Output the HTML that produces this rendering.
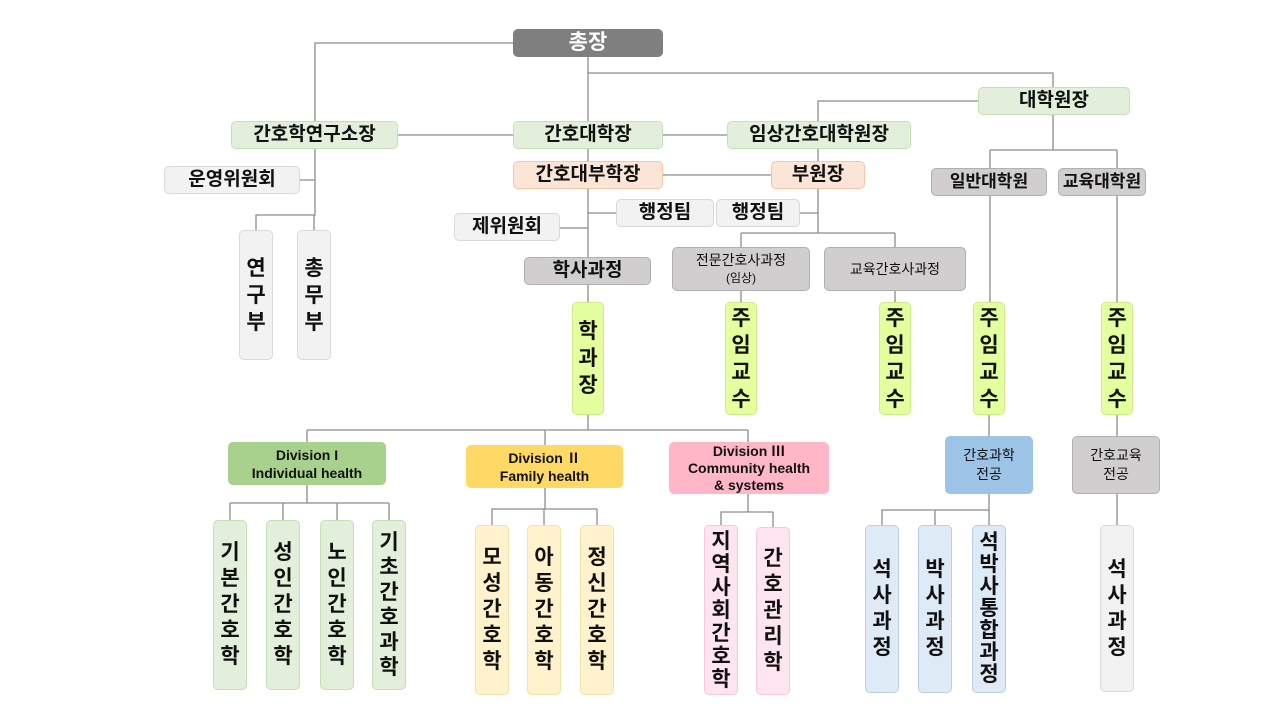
<!DOCTYPE html><html><head><meta charset="utf-8"><style>
body{margin:0;width:1280px;height:720px;background:#fff;position:relative;overflow:hidden;font-family:"Liberation Sans","Noto Sans CJK KR",sans-serif}
.b{position:absolute;box-sizing:border-box;border-radius:5px;display:flex;align-items:center;justify-content:center;text-align:center;font-weight:bold;font-size:19px;color:#111;line-height:1.15}
.g{background:#e2efda;border:1px solid #c5e0b4}
.p{background:#fbe5d6;border:1px solid #f4c7a8}
.l{background:#f2f2f2;border:1px solid #d9d9d9}
.d{background:#d0cece;border:1px solid #b0b0b0}
.y{background:#e3ff9e;border:1px solid #cfe98a}
.v{flex-direction:column;font-size:21px;line-height:27px}
.v2{flex-direction:column;font-size:21px;line-height:26px}
svg{position:absolute;left:0;top:0}
</style></head><body>
<svg width="1280" height="720" stroke="#8c8c8c" stroke-width="1.3" fill="none">
<path d="M513 43H315V121M588 57V302M588 415V430M588 73H1053V87M978 101H818V121M1053 115V150M990 150H1117M990 150V168M1117 150V168"/>
<path d="M398 135H513M663 135H727M663 175H771M818 149V233M741 233H895M741 233V247M895 233V247M800 213H818M616 213H588M560 228H588"/>
<path d="M315 149V215H256V230M314 215V230M300 180H315"/>
<path d="M741 291V302M895 291V302M990 196V302M1117 196V302M989 415V436M1117 415V436"/>
<path d="M307 430H748M307 430V442M545 430V445M748 430V442"/>
<path d="M307 485V503M230 503H389M230 503V520M283 503V520M337 503V520M389 503V520"/>
<path d="M545 488V509H492V525M544 509V525M597 509H492M597 509V525"/>
<path d="M748 494V512H721V525M773 512V527M721 512H773"/>
<path d="M989 494V510H882V525M935 510V525M989 510V525"/>
<path d="M1117 494V525"/>
</svg>
<div class="b" style="left:513px;top:29px;width:150px;height:28px;background:#7f7f7f;color:#fff;font-size:21px">총장</div>
<div class="b g" style="left:231px;top:121px;width:167px;height:28px">간호학연구소장</div>
<div class="b g" style="left:513px;top:121px;width:150px;height:28px">간호대학장</div>
<div class="b g" style="left:727px;top:121px;width:184px;height:28px">임상간호대학원장</div>
<div class="b g" style="left:978px;top:87px;width:152px;height:28px">대학원장</div>
<div class="b l" style="left:164px;top:166px;width:136px;height:28px">운영위원회</div>
<div class="b p" style="left:513px;top:161px;width:150px;height:28px">간호대부학장</div>
<div class="b p" style="left:771px;top:161px;width:94px;height:28px">부원장</div>
<div class="b l" style="left:616px;top:199px;width:98px;height:28px">행정팀</div>
<div class="b l" style="left:716px;top:199px;width:84px;height:28px">행정팀</div>
<div class="b l" style="left:454px;top:213px;width:106px;height:28px">제위원회</div>
<div class="b d" style="left:524px;top:257px;width:127px;height:28px">학사과정</div>
<div class="b d" style="left:672px;top:247px;width:138px;height:44px;font-weight:normal;font-size:14px"><div style="line-height:17px">전문간호사과정<br><span style="font-size:12px">(임상)</span></div></div>
<div class="b d" style="left:824px;top:247px;width:142px;height:44px;font-weight:normal;font-size:14px">교육간호사과정</div>
<div class="b d" style="left:931px;top:168px;width:116px;height:28px;font-size:17px">일반대학원</div>
<div class="b d" style="left:1058px;top:168px;width:88px;height:28px;font-size:17px">교육대학원</div>
<div class="b l v" style="left:239px;top:230px;width:34px;height:130px"><span>연</span><span>구</span><span>부</span></div>
<div class="b l v" style="left:297px;top:230px;width:34px;height:130px"><span>총</span><span>무</span><span>부</span></div>
<div class="b y v" style="left:572px;top:302px;width:32px;height:113px"><span>학</span><span>과</span><span>장</span></div>
<div class="b y v" style="left:725px;top:302px;width:32px;height:113px"><span>주</span><span>임</span><span>교</span><span>수</span></div>
<div class="b y v" style="left:879px;top:302px;width:32px;height:113px"><span>주</span><span>임</span><span>교</span><span>수</span></div>
<div class="b y v" style="left:973px;top:302px;width:32px;height:113px"><span>주</span><span>임</span><span>교</span><span>수</span></div>
<div class="b y v" style="left:1101px;top:302px;width:32px;height:113px"><span>주</span><span>임</span><span>교</span><span>수</span></div>
<div class="b" style="left:228px;top:442px;width:158px;height:43px;background:#a9d18e;font-size:14px"><div style="line-height:18px">Division I<br>Individual health</div></div>
<div class="b" style="left:466px;top:445px;width:157px;height:43px;background:#ffd966;font-size:14px"><div style="line-height:18px">Division Ⅱ<br>Family health</div></div>
<div class="b" style="left:669px;top:442px;width:160px;height:52px;background:#ffb7c8;font-size:14px"><div style="line-height:17px">Division Ⅲ<br>Community health<br>&amp; systems</div></div>
<div class="b" style="left:945px;top:436px;width:88px;height:58px;background:#9dc3e6;font-weight:normal;font-size:14px"><div style="line-height:19px">간호과학<br>전공</div></div>
<div class="b d" style="left:1072px;top:436px;width:88px;height:58px;font-weight:normal;font-size:14px"><div style="line-height:19px">간호교육<br>전공</div></div>
<div class="b g v2" style="left:213px;top:520px;width:34px;height:170px"><span>기</span><span>본</span><span>간</span><span>호</span><span>학</span></div>
<div class="b g v2" style="left:266px;top:520px;width:34px;height:170px"><span>성</span><span>인</span><span>간</span><span>호</span><span>학</span></div>
<div class="b g v2" style="left:320px;top:520px;width:34px;height:170px"><span>노</span><span>인</span><span>간</span><span>호</span><span>학</span></div>
<div class="b g v2" style="left:372px;top:520px;width:34px;height:170px;line-height:25px"><span>기</span><span>초</span><span>간</span><span>호</span><span>과</span><span>학</span></div>
<div class="b v2" style="left:475px;top:525px;width:34px;height:170px;background:#fff2cc;border:1px solid #f5e2a8"><span>모</span><span>성</span><span>간</span><span>호</span><span>학</span></div>
<div class="b v2" style="left:527px;top:525px;width:34px;height:170px;background:#fff2cc;border:1px solid #f5e2a8"><span>아</span><span>동</span><span>간</span><span>호</span><span>학</span></div>
<div class="b v2" style="left:580px;top:525px;width:34px;height:170px;background:#fff2cc;border:1px solid #f5e2a8"><span>정</span><span>신</span><span>간</span><span>호</span><span>학</span></div>
<div class="b v2" style="left:704px;top:525px;width:34px;height:170px;background:#ffe5f0;border:1px solid #f5c8da;line-height:23px"><span>지</span><span>역</span><span>사</span><span>회</span><span>간</span><span>호</span><span>학</span></div>
<div class="b v2" style="left:756px;top:527px;width:34px;height:168px;background:#ffe5f0;border:1px solid #f5c8da"><span>간</span><span>호</span><span>관</span><span>리</span><span>학</span></div>
<div class="b v2" style="left:865px;top:525px;width:34px;height:168px;background:#deebf7;border:1px solid #b8cfe6"><span>석</span><span>사</span><span>과</span><span>정</span></div>
<div class="b v2" style="left:918px;top:525px;width:34px;height:168px;background:#deebf7;border:1px solid #b8cfe6"><span>박</span><span>사</span><span>과</span><span>정</span></div>
<div class="b v2" style="left:972px;top:525px;width:34px;height:168px;background:#deebf7;border:1px solid #b8cfe6;line-height:22px"><span>석</span><span>박</span><span>사</span><span>통</span><span>합</span><span>과</span><span>정</span></div>
<div class="b l v2" style="left:1100px;top:525px;width:34px;height:167px"><span>석</span><span>사</span><span>과</span><span>정</span></div>
</body></html>
